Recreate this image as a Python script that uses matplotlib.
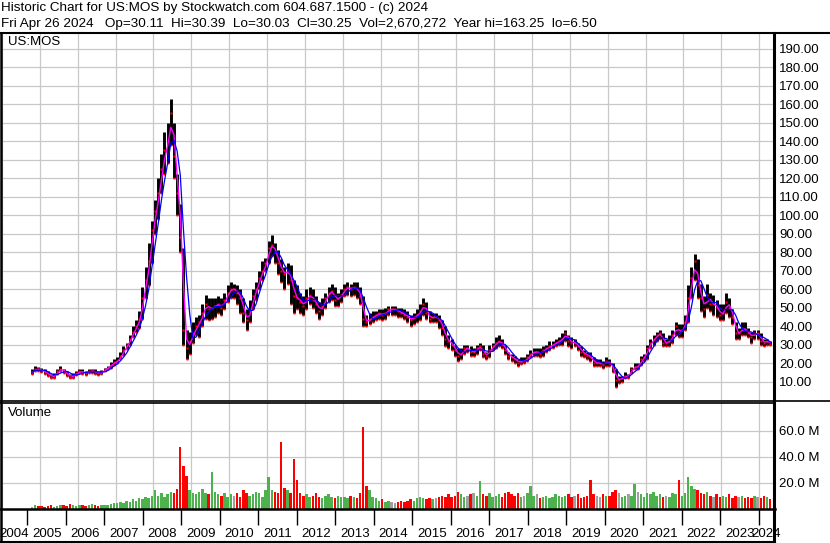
import numpy as np
import pandas as pd
import matplotlib
matplotlib.use('Agg')
import matplotlib.pyplot as plt
from matplotlib.lines import Line2D

plt.rcParams['font.family'] = ['Liberation Sans', 'DejaVu Sans']

# monthly values, Oct 2004 .. Apr 2024
close = [15, 17, 16.5,
         16, 15, 14, 12.5, 13, 15.5, 17, 15.5, 14, 12.5, 13, 14.5,
         15.5, 15, 14.5, 15.5, 15.8, 15, 14.5, 15, 16.5, 17.5, 19, 20.5,
         21, 24, 27, 29.5, 33, 37, 40, 44, 55, 65, 75, 92,
         102, 112, 125, 135, 140, 155, 132, 112, 88, 38, 28, 32,
         36, 40, 42, 47, 52, 49, 50, 51, 52, 50, 54, 58,
         60, 60, 58, 55, 47, 43, 48, 56, 60, 66, 70, 74,
         82, 84, 80, 74, 70, 68, 70, 65, 56, 55, 53, 51,
         55, 57, 54, 52, 48, 51, 55, 58, 59, 54, 55, 57,
         60, 61, 60, 61, 60, 56, 44, 42, 44, 45, 46, 47,
         46, 47, 49, 49, 49, 48, 47, 46, 45, 43, 45, 46,
         48, 52, 47, 44, 45, 45, 43, 39, 33, 32, 30, 27,
         24, 25, 28, 28, 26, 26, 28, 29, 25, 24, 27, 29,
         31, 32, 30, 27, 24, 23, 22, 20, 21, 21, 23, 25,
         26, 26, 25, 27, 28, 29, 30, 31, 32, 33, 36, 32,
         31, 31, 29, 26, 25, 24, 23, 20, 20, 20, 19, 21,
         20, 17, 11, 11, 12, 13, 13, 17, 18, 18, 22, 23,
         28, 31, 33, 35, 36, 31, 31, 32, 35, 40, 36, 38,
         42, 55, 66, 75, 62, 55, 49, 57, 52, 52, 50, 46,
         47, 53, 50, 45, 36, 36, 39, 38, 36, 34, 36, 36,
         32, 31, 32, 30.5]

high = [16.5, 18.5, 18,
        17.5, 16.5, 15.5, 14, 14.5, 17, 18.5, 17, 15.5, 14, 14.5, 15.5,
        16.5, 16.5, 15.5, 16.5, 17, 16.5, 15.5, 16, 17.5, 18.5, 20.5, 22,
        23, 26, 29, 31, 35, 40, 43, 48, 61, 72, 85, 97,
        108, 120, 133, 145, 150, 163, 150, 122, 106, 82, 38, 37,
        42, 45, 46, 52, 57, 55, 55, 55, 56, 55, 58, 62,
        64, 63, 62, 60, 55, 49, 54, 60, 64, 70, 75, 77,
        86, 89, 85, 81, 76, 72, 74, 73, 65, 62, 58, 56,
        60, 61, 60, 56, 53, 55, 58, 61, 63, 61, 58, 60,
        63, 64, 63, 64, 64, 61, 56, 46, 47, 48, 48, 49,
        49, 50, 51, 51, 51, 50, 50, 49, 48, 46, 47, 49,
        52, 55, 53, 48, 47, 47, 46, 43, 40, 35, 33, 30,
        28, 28, 30, 30, 29, 28, 30, 31, 30, 26, 30, 31,
        34, 35, 33, 30, 26, 25, 24, 22, 23, 23, 25, 27,
        28, 28, 28, 29, 30, 32, 32, 33, 34, 36, 38, 35,
        34, 33, 31, 29, 27, 26, 26, 23, 22, 22, 21, 23,
        22, 20, 17, 13, 13, 15, 14, 18, 20, 20, 24, 25,
        30, 33, 35, 37, 38, 36, 33, 35, 38, 42, 41, 41,
        46, 62, 72, 79, 76, 63, 56, 63, 58, 57, 54, 52,
        52, 58, 55, 49, 42, 39, 42, 42, 39, 37, 38, 38,
        36, 33, 33, 32]

low = [14, 15.5, 15.5,
       15, 14, 13, 12, 12, 14, 15.5, 14.5, 13, 12, 12, 13.5,
       14.5, 14, 13.5, 14.5, 14.5, 14, 13.5, 14, 15.5, 16.5, 17.5, 19,
       20, 22, 24.5, 27.5, 30, 34, 37, 39, 44, 55, 62, 74,
       90, 98, 112, 122, 128, 138, 120, 100, 80, 30, 22, 25,
       31, 35, 34, 40, 44, 43, 44, 45, 47, 46, 49, 53,
       55, 55, 52, 47, 42, 38, 42, 49, 54, 60, 65, 70,
       74, 78, 74, 68, 64, 60, 63, 52, 47, 49, 47, 46,
       49, 52, 50, 47, 44, 46, 50, 53, 54, 51, 51, 53,
       56, 57, 56, 57, 55, 52, 40, 40, 41, 42, 43, 44,
       43, 44, 46, 46, 46, 45, 45, 44, 42, 40, 41, 42,
       43, 46, 44, 42, 42, 42, 39, 35, 29, 28, 27, 24,
       21, 22, 25, 26, 24, 24, 25, 27, 23, 22, 23, 27,
       28, 29, 28, 25, 22, 21, 20, 18.5, 19.5, 20, 21, 23,
       24, 24, 23, 24, 26, 27, 28, 29, 30, 30, 32, 29,
       28, 29, 27, 24, 23, 22, 21, 18.5, 18.5, 18.5, 17.5, 18.5,
       18.5, 15, 7, 9, 10, 12, 12, 14.5, 16.5, 16.5, 19, 21,
       22, 28, 30, 32, 33, 29, 29, 29, 31, 35, 34, 34,
       38, 42, 55, 65, 55, 48, 45, 50, 48, 46, 45, 43,
       43, 47, 45, 41, 33, 33, 35, 35, 34, 31, 33, 33,
       30, 29, 30, 29.5]

# volume in millions
volume = [1.5, 2.5, 2,
          2, 1.5, 2, 2.5, 1.5, 2, 3, 2.5, 2, 3.5, 2.5, 2,
          2.5, 3, 2, 2.5, 3.5, 2.5, 2, 3, 2.5, 3, 3.5, 4,
          4, 5, 4.5, 6, 5, 7, 6, 8, 7, 9, 8, 10,
          14, 10, 12, 9, 11, 13, 12, 15, 47, 33, 25, 14,
          12, 11, 13, 15, 12, 11, 28, 13, 11, 10, 12, 9,
          11, 10, 12, 9, 14, 12, 10, 11, 13, 12, 9, 14,
          24, 14, 13, 12, 51, 16, 14, 12, 38, 22, 12, 10,
          11, 9, 10, 12, 9, 8, 10, 11, 9, 8, 10, 9,
          9, 8, 10, 9, 8, 12, 63, 17, 14, 9, 8, 6,
          7, 5, 6, 5, 4, 5, 6, 5, 6, 7, 6, 8,
          9, 8, 7, 8, 7, 8, 9, 10, 9, 11, 9, 10,
          13, 11, 9, 10, 11, 12, 10, 21, 11, 10, 12, 9,
          10, 11, 9, 12, 13, 11, 10, 12, 9, 10, 12, 17,
          10, 11, 8, 9, 10, 8, 9, 11, 10, 9, 10, 11,
          9, 10, 11, 8, 9, 10, 22, 11, 10, 9, 11, 10,
          10, 13, 14, 12, 9, 10, 11, 10, 19, 13, 11, 9,
          12, 11, 13, 10, 11, 9, 10, 9, 12, 11, 22, 10,
          12, 24, 17, 15, 14, 12, 11, 13, 10, 9, 11, 9,
          10, 9, 11, 8, 10, 9, 10, 8, 9, 8, 10, 9,
          8, 10, 9, 7]

years = list(range(2004, 2025))
price_ticks = list(range(10, 200, 10))
vol_ticks = [20, 40, 60]

header1 = 'Historic Chart for US:MOS by Stockwatch.com 604.687.1500 - (c) 2024'
header2 = ('Fri Apr 26 2024   Op=30.11  Hi=30.39  Lo=30.03  Cl=30.25  '
           'Vol=2,670,272  Year hi=163.25  lo=6.50')

dates = pd.date_range('2004-10-01', periods=len(close), freq='MS')
x = dates.year + (dates.month - 0.5) / 12
cl = pd.Series(close)
ma_fast = cl.rolling(2, min_periods=1).mean()
ma_slow = cl.rolling(4, min_periods=1).mean()

chg = np.sign(np.diff(close, prepend=close[0]))
vcol = np.where(chg > 0, '#4DB24D', np.where(chg < 0, '#FF0000', '#A0A0A0'))

W, H = 830, 543
def box(l, t, r, b):
    return [l / W, 1 - b / H, (r - l) / W, (b - t) / H]

def fline(x0, y0, x1, y1, lw=1.0):
    fig.add_artist(Line2D([x0 / W, x1 / W], [1 - y0 / H, 1 - y1 / H],
                          transform=fig.transFigure, color='black', lw=lw))

XL = (2004.338, 2024.364)
grid_kw = dict(color='#C8C8C8', lw=0.9)

fig = plt.figure(figsize=(8.3, 5.43), dpi=100)

# price panel
ax = fig.add_axes(box(2, 33, 773, 400))
ax.vlines(x, low, high, color='black', lw=2.1, zorder=3)
ax.plot(x, close, 's', ms=1.8, color='red', mec='none', zorder=4)
ax.plot(x, low, 's', ms=1.4, color='red', mec='none', zorder=4)
ax.plot(x, ma_fast, color='#FF00FF', lw=1.0, zorder=5)
ax.plot(x, ma_slow, color='#0000FF', lw=0.9, zorder=5)
ax.set_xlim(XL)
ax.set_ylim(0, 198.5)
ax.set_xticks(years)
ax.set_yticks(price_ticks)
ax.set_yticklabels([f'{v:.2f}' for v in price_ticks])
ax.yaxis.tick_right()
ax.tick_params(axis='y', length=0, pad=4.5, labelsize=9.5, colors='black')
ax.tick_params(axis='x', length=0, labelbottom=False)
ax.grid(True, **grid_kw)
ax.set_axisbelow(True)
for s in ax.spines.values():
    s.set_visible(False)
ax.text(6 / 771, 1 - 9 / 367, 'US:MOS', transform=ax.transAxes,
        fontsize=9.5, va='center', ha='left')

# volume panel
axv = fig.add_axes(box(2, 402, 773, 508.5))
axv.bar(x, volume, width=0.065, color=vcol, zorder=3)
axv.set_xlim(XL)
axv.set_ylim(0, 82)
axv.set_xticks(years)
axv.set_yticks(vol_ticks)
axv.set_yticklabels([f'{v:.1f} M' for v in vol_ticks])
axv.yaxis.tick_right()
axv.tick_params(axis='y', length=0, pad=4, labelsize=9.5)
axv.tick_params(axis='x', length=0, labelbottom=False)
axv.grid(True, **grid_kw)
axv.set_axisbelow(True)
for s in axv.spines.values():
    s.set_visible(False)
axv.text(6 / 771, 1 - 11 / 106.5, 'Volume', transform=axv.transAxes,
         fontsize=9.5, va='center', ha='left')

# year label strip
axl = fig.add_axes(box(2, 509, 773, 541))
axl.set_xlim(XL)
axl.set_ylim(0, 1)
axl.axis('off')
axl.vlines([yv for yv in years if XL[0] < yv < XL[1]], 0.5, 1, color='black', lw=1)
for yv in years:
    a, b = max(yv, XL[0] - 0.05), min(yv + 1, XL[1])
    axl.text((a + b) / 2, 0.22, str(yv), ha='center', va='center', fontsize=9.5)

# frame
fline(0, 33, 830, 33, 1.5)
fline(1, 33, 1, 541, 1.8)
fline(774, 33, 774, 543, 2.2)
fline(0, 400.5, 830, 400.5, 1.2)
fline(0, 403, 775, 403, 1.2)
fline(0, 509, 775, 509, 1.8)
fline(0, 541.5, 775, 541.5, 1.5)

fig.text(1 / W, 1 - 8 / H, header1, fontsize=9.7, va='center', ha='left')
fig.text(1 / W, 1 - 24 / H, header2, fontsize=9.7, va='center', ha='left')

fig.savefig('out.png', dpi=100)
